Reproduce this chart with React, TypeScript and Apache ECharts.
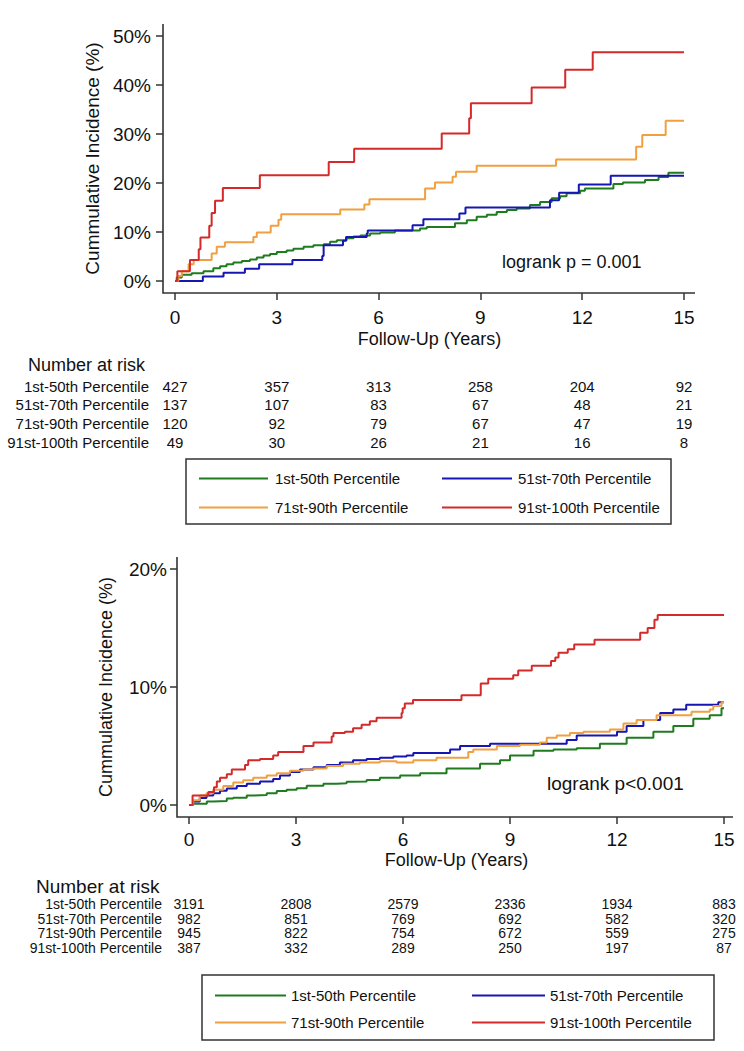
import React, { useEffect, useRef } from "react";
import * as echarts from "echarts";

// ---------- labels ----------
const groupNames = [
  "1st-50th Percentile",
  "51st-70th Percentile",
  "71st-90th Percentile",
  "91st-100th Percentile",
];
const groupColors = ["#1e7b1e", "#1616b2", "#f0a040", "#d42a2a"];
const xTicks = [0, 3, 6, 9, 12, 15];

// ---------- Top panel: cumulative incidence (%) by year ----------
const topP1_50 = [
  [0, 0], [0.05, 0.7], [0.2, 1.3], [0.49, 1.6], [0.84, 2.0], [1.13, 2.6], [1.33, 3.0], [1.52, 3.4],
  [1.72, 3.8], [1.97, 4.1], [2.21, 4.4], [2.41, 4.8], [2.61, 5.2], [2.8, 5.5], [3.0, 5.9], [3.29, 6.2],
  [3.49, 6.6], [3.79, 7.0], [4.08, 7.3], [4.38, 7.5], [4.57, 8.0], [4.77, 8.3], [5.06, 8.7], [5.26, 9.1],
  [5.46, 9.3], [5.75, 9.7], [6.05, 9.9], [6.48, 10.3], [7.22, 10.7], [7.42, 11.0], [8.25, 11.8],
  [8.6, 12.4], [8.89, 13.1], [9.19, 13.5], [9.48, 14.1], [9.78, 14.5], [10.07, 14.8], [10.46, 15.5],
  [10.76, 16.1], [11.1, 16.9], [11.35, 17.3], [11.54, 17.9], [11.94, 18.4], [12.08, 18.9],
  [12.92, 19.8], [13.2, 20.1], [13.85, 20.6], [14.25, 21.2], [14.54, 22.1], [15, 22.1],
];
const topP51_70 = [
  [0, 0], [0.82, 0.9], [1.43, 1.7], [2.06, 2.5], [2.48, 3.4], [3.46, 4.3], [4.34, 5.1], [4.38, 7.3],
  [4.95, 8.2], [5.04, 9.0], [5.65, 9.7], [5.68, 10.3], [7.0, 11.4], [7.32, 12.6], [8.38, 13.8],
  [8.56, 15.0], [11.05, 16.5], [11.32, 18.0], [11.9, 19.7], [12.84, 21.5], [15, 21.5],
];
const topP71_90 = [
  [0, 0], [0.1, 1.0], [0.2, 2.0], [0.4, 3.4], [0.55, 4.3], [1.08, 5.6], [1.23, 7.0], [1.47, 7.9],
  [2.31, 9.0], [2.41, 9.9], [2.82, 11.3], [3.05, 12.5], [3.13, 13.6], [4.87, 14.6], [5.58, 15.6],
  [5.73, 16.7], [7.37, 18.9], [7.66, 20.1], [8.18, 21.3], [8.28, 22.3], [8.89, 23.5], [11.23, 24.8],
  [13.59, 27.4], [13.77, 29.8], [14.46, 32.7], [15, 32.7],
];
const topP91_100 = [
  [0, 0], [0.07, 2.0], [0.44, 4.3], [0.7, 6.5], [0.75, 8.9], [1.01, 11.3], [1.08, 13.9], [1.18, 16.4],
  [1.41, 19.0], [2.5, 21.6], [4.53, 24.3], [5.28, 27.0], [7.86, 30.1], [8.67, 33.2], [8.72, 36.3],
  [10.51, 39.5], [11.5, 43.1], [12.31, 46.7], [15, 46.7],
];
const topRisk = [
  [427, 357, 313, 258, 204, 92],
  [137, 107, 83, 67, 48, 21],
  [120, 92, 79, 67, 47, 19],
  [49, 30, 26, 21, 16, 8],
];
const topPText = "logrank p = 0.001";

// ---------- Bottom panel ----------
const botP1_50 = [
  [0, 0], [0.12, 0.1], [0.5, 0.3], [0.68, 0.34], [1.06, 0.55], [1.24, 0.62], [1.62, 0.8], [1.8, 0.85],
  [2.18, 1.0], [2.46, 1.19], [2.74, 1.3], [3.02, 1.41], [3.3, 1.64], [3.77, 1.8], [4.14, 1.85],
  [4.42, 1.98], [4.6, 2.0], [4.98, 2.12], [5.35, 2.3], [5.92, 2.5], [6.48, 2.7], [7.22, 3.1],
  [8.16, 3.5], [8.72, 3.8], [9.0, 4.2], [9.66, 4.6], [10.22, 4.7], [10.87, 4.8], [11.52, 5.2],
  [12.27, 5.7], [13.02, 6.2], [13.58, 6.7], [14.14, 7.3], [14.6, 7.6], [14.93, 8.2], [15, 8.2],
];
const botP51_70 = [
  [0, 0], [0.12, 0.3], [0.3, 0.6], [0.49, 0.8], [0.68, 1.0], [0.87, 1.2], [1.06, 1.4], [1.34, 1.6],
  [1.62, 1.8], [1.99, 2.0], [2.36, 2.2], [2.55, 2.5], [2.83, 2.8], [3.11, 3.0], [3.49, 3.2],
  [3.86, 3.4], [4.23, 3.6], [4.6, 3.8], [4.98, 3.9], [5.35, 4.0], [5.73, 4.1], [6.1, 4.2],
  [6.29, 4.4], [7.32, 4.7], [7.6, 5.0], [8.44, 5.2], [10.59, 5.5], [10.87, 5.9], [12.0, 6.2],
  [12.27, 6.7], [12.74, 7.2], [13.21, 7.8], [13.58, 8.1], [13.94, 8.5], [14.84, 8.7], [15, 8.7],
];
const botP71_90 = [
  [0, 0], [0.12, 0.4], [0.3, 0.8], [0.49, 1.0], [0.68, 1.3], [0.96, 1.6], [1.24, 1.9], [1.52, 2.1],
  [1.8, 2.3], [2.18, 2.5], [2.46, 2.7], [2.83, 2.9], [3.21, 3.0], [3.49, 3.1], [3.86, 3.3],
  [4.32, 3.5], [4.79, 3.6], [5.35, 3.7], [5.82, 3.6], [6.29, 3.8], [6.94, 4.0], [7.83, 4.5],
  [7.97, 4.7], [8.63, 5.0], [9.28, 5.1], [9.84, 5.3], [10.03, 5.7], [10.31, 5.9], [10.68, 6.1],
  [11.06, 6.2], [11.8, 6.4], [12.18, 6.9], [12.55, 7.2], [13.11, 7.6], [14.09, 7.9], [14.6, 8.1],
  [14.7, 8.4], [14.93, 8.7], [15, 8.7],
];
const botP91_100 = [
  [0, 0], [0.1, 0.8], [0.54, 1.1], [0.7, 1.5], [0.78, 2.0], [0.87, 2.3], [1.06, 2.6], [1.2, 3.0],
  [1.57, 3.4], [1.66, 3.8], [1.99, 3.9], [2.36, 4.2], [2.5, 4.5], [3.21, 5.0], [3.49, 5.3],
  [4.0, 5.8], [4.05, 6.1], [4.37, 6.2], [4.6, 6.5], [4.84, 6.8], [5.07, 7.1], [5.26, 7.4],
  [5.96, 7.8], [5.99, 8.2], [6.05, 8.6], [6.28, 8.9], [7.64, 9.3], [8.18, 10.3], [8.39, 10.7],
  [9.09, 11.0], [9.23, 11.4], [9.61, 11.8], [10.15, 12.2], [10.27, 12.5], [10.36, 12.9],
  [10.62, 13.2], [10.8, 13.6], [11.37, 14.0], [12.65, 14.6], [12.86, 15.0], [13.05, 15.7],
  [13.14, 16.1], [15, 16.1],
];
const botRisk = [
  [3191, 2808, 2579, 2336, 1934, 883],
  [982, 851, 769, 692, 582, 320],
  [945, 822, 754, 672, 559, 275],
  [387, 332, 289, 250, 197, 87],
];
const botPText = "logrank p<0.001";

const FONT = "Arial, 'Liberation Sans', Helvetica, sans-serif";
const AX = "#333333";

export default function App() {
  const ref = useRef<HTMLDivElement>(null);

  useEffect(() => {
    if (!ref.current) return;
    const chart = echarts.init(ref.current, undefined, { renderer: "svg" });

    // panel geometry
    const P = [
      { left: 175, right: 60, top: 36, height: 245 },
      { left: 189, right: 20, top: 569, height: 236 },
    ];
    const W = 744;
    const xPix = (p: number, t: number) =>
      P[p].left + ((W - P[p].left - P[p].right) * t) / 15;

    const topSeries = [topP1_50, topP51_70, topP71_90, topP91_100];
    const botSeries = [botP1_50, botP51_70, botP71_90, botP91_100];

    const series: any[] = [];
    [topSeries, botSeries].forEach((set, gi) => {
      set.forEach((d, i) => {
        series.push({
          type: "line",
          name: groupNames[i],
          xAxisIndex: gi,
          yAxisIndex: gi,
          step: "end",
          symbol: "none",
          data: d,
          lineStyle: { color: groupColors[i], width: 2 },
          itemStyle: { color: groupColors[i] },
          silent: true,
        });
      });
    });

    const xAxisCfg = (gi: number, labelMargin: number, nameGap: number) => ({
      type: "value",
      gridIndex: gi,
      min: 0,
      max: 15,
      interval: 3,
      offset: 12,
      axisLine: { show: false, onZero: false },
      axisTick: { show: true, length: 7, lineStyle: { color: AX, width: 1.5 } },
      axisLabel: { fontSize: 19, color: "#111", fontFamily: FONT, margin: labelMargin },
      splitLine: { show: false },
      name: "Follow-Up (Years)",
      nameLocation: "middle",
      nameGap,
      nameTextStyle: { fontSize: 18, color: "#111", fontFamily: FONT },
    });
    const yAxisCfg = (gi: number, max: number, interval: number, margin: number, nameGap: number, nameSize: number) => ({
      type: "value",
      gridIndex: gi,
      min: 0,
      max,
      interval,
      offset: 12,
      axisLine: { show: false, onZero: false },
      axisTick: { show: true, length: 7, lineStyle: { color: AX, width: 1.5 } },
      axisLabel: { fontSize: 19, color: "#111", fontFamily: FONT, margin, formatter: "{value}%" },
      splitLine: { show: false },
      name: "Cummulative Incidence (%)",
      nameLocation: "middle",
      nameRotate: 90,
      nameGap,
      nameTextStyle: { fontSize: nameSize, color: "#111", fontFamily: FONT },
    });

    const graphics: any[] = [];
    // axis lines
    const axisLines = [
      { x: 163, yTop: 24, yBot: 293, xRight: 695 },
      { x: 177, yTop: 557, yBot: 817, xRight: 733 },
    ];
    axisLines.forEach((a) => {
      graphics.push({
        type: "polyline",
        silent: true,
        shape: { points: [[a.x, a.yTop], [a.x, a.yBot], [a.xRight, a.yBot]] },
        style: { stroke: AX, lineWidth: 1.6, fill: null },
      });
    });

    // risk tables
    const tables = [
      { p: 0, risk: topRisk, headY: 365, headX: 28, headSize: 18, labelRight: 149, rows: [386, 404.5, 423.3, 442.3], fs: 15 },
      { p: 1, risk: botRisk, headY: 886, headX: 36, headSize: 19, labelRight: 162, rows: [904, 918.7, 933.3, 948], fs: 14 },
    ];
    tables.forEach((tb) => {
      graphics.push({
        type: "text",
        x: tb.headX,
        y: tb.headY,
        silent: true,
        style: { text: "Number at risk", fontSize: tb.headSize, fontFamily: FONT, fill: "#111", textVerticalAlign: "middle" },
      });
      tb.risk.forEach((row, ri) => {
        graphics.push({
          type: "text",
          x: tb.labelRight,
          y: tb.rows[ri],
          silent: true,
          style: { text: groupNames[ri], fontSize: tb.fs, lineHeight: tb.fs, fontFamily: FONT, fill: "#111", textAlign: "right", textVerticalAlign: "middle" },
        });
        row.forEach((v, ci) => {
          graphics.push({
            type: "text",
            x: xPix(tb.p, xTicks[ci]),
            y: tb.rows[ri],
            silent: true,
            style: { text: String(v), fontSize: tb.fs, lineHeight: tb.fs, fontFamily: FONT, fill: "#111", textAlign: "center", textVerticalAlign: "middle" },
          });
        });
      });
    });

    // logrank texts
    graphics.push({
      type: "text", x: 502, y: 262, silent: true,
      style: { text: topPText, fontSize: 18, fontFamily: FONT, fill: "#111", textVerticalAlign: "middle" },
    });
    graphics.push({
      type: "text", x: 547, y: 783, silent: true,
      style: { text: botPText, fontSize: 19, fontFamily: FONT, fill: "#111", textVerticalAlign: "middle" },
    });

    // legend boxes
    graphics.push({
      type: "rect", silent: true,
      shape: { x: 186, y: 459, width: 485, height: 65 },
      style: { stroke: AX, lineWidth: 1.5, fill: null },
    });
    graphics.push({
      type: "rect", silent: true,
      shape: { x: 202, y: 975, width: 512, height: 65 },
      style: { stroke: AX, lineWidth: 1.5, fill: null },
    });

    const legendCfg = (names: string[], left: number, top: number, itemWidth: number, gap: number, pad: number) => ({
      show: true,
      orient: "vertical",
      left,
      top,
      icon: "rect",
      itemWidth,
      itemHeight: 2,
      itemGap: gap,
      selectedMode: false,
      data: names,
      textStyle: { fontSize: 15, fontFamily: FONT, color: "#111", lineHeight: 14, padding: [0, 0, 0, pad] },
    });

    chart.setOption({
      animation: false,
      backgroundColor: "#ffffff",
      textStyle: { fontFamily: FONT },
      grid: P.map((p) => ({ left: p.left, right: p.right, top: p.top, height: p.height, containLabel: false })),
      xAxis: [xAxisCfg(0, 15, 37), xAxisCfg(1, 13, 34)],
      yAxis: [yAxisCfg(0, 50, 10, 12, 51, 19), yAxisCfg(1, 20, 10, 10, 62, 18)],
      legend: [
        legendCfg([groupNames[0], groupNames[2]], 194, 466, 69, 14, 2),
        legendCfg([groupNames[1], groupNames[3]], 437, 466, 70, 14, 1),
        legendCfg([groupNames[0], groupNames[2]], 210, 983, 71, 12, 0),
        legendCfg([groupNames[1], groupNames[3]], 467, 983, 73, 12, 0),
      ],
      series,
      graphic: graphics,
    });

    return () => chart.dispose();
  }, []);

  return (
    <div
      ref={ref}
      style={{ position: "absolute", left: 0, top: 0, width: 744, height: 1051, background: "#fff" }}
    />
  );
}
